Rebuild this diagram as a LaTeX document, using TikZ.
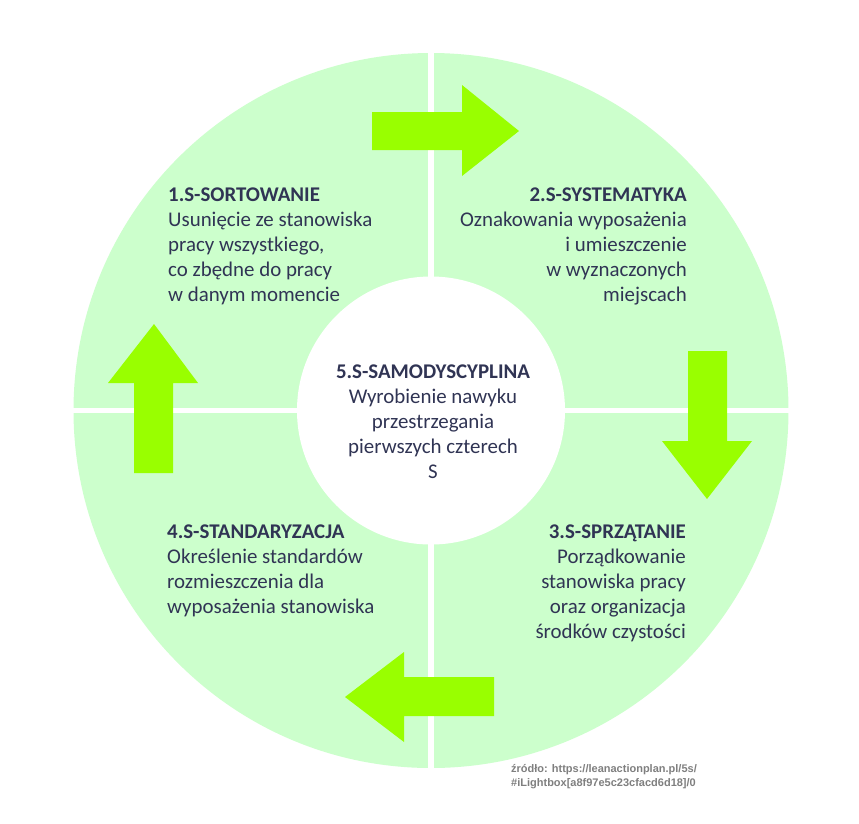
\documentclass[tikz,border=0pt]{standalone}
\usepackage{fontspec}
\setmainfont{Carlito}
\newfontfamily\srcfont{Liberation Sans}
\definecolor{ringgreen}{RGB}{204,255,204}
\definecolor{arrowgreen}{RGB}{153,255,0}
\definecolor{navy}{RGB}{48,52,84}
\definecolor{srcgray}{RGB}{127,127,127}
\tikzset{
  blocktext/.style={inner sep=0pt, text=navy, font=\fontsize{20.9}{25}\selectfont},
  blockarrow/.style={fill=arrowgreen, draw=none},
  gapline/.style={draw=white, line width=5.5pt}
}
\begin{document}
\begin{tikzpicture}[x=1pt,y=-1pt]
\useasboundingbox (0,0) rectangle (859,823);
\fill[white] (0,0) rectangle (859,823);
% ring
\fill[ringgreen] (431,410.5) circle (357.5);
\draw[gapline] (431,45) -- (431,776);
\draw[gapline] (65,410.5) -- (797,410.5);
\fill[white] (431,410.5) circle (134);
% block arrows
\fill[blockarrow] (372,112) -- (462,112) -- (462,85) -- (519,131) -- (462,176) -- (462,150) -- (372,150) -- cycle;
\fill[blockarrow] (688,351) -- (727,351) -- (727,441) -- (752,441) -- (707,499) -- (662,441) -- (688,441) -- cycle;
\fill[blockarrow] (494,677) -- (494,716) -- (404,716) -- (404,742) -- (345,697) -- (404,652) -- (404,677) -- cycle;
\fill[blockarrow] (134,473) -- (134,383) -- (108,383) -- (154,324) -- (198,383) -- (173,383) -- (173,473) -- cycle;
% texts
\node[blocktext, anchor=north west, align=left] (s1) at (168,188)
  {\textbf{1.S-SORTOWANIE}\\Usunięcie ze stanowiska\\pracy wszystkiego,\\co zbędne do pracy\\w danym momencie};
\node[blocktext, anchor=north east, align=right] (s2) at (687,188)
  {\textbf{2.S-SYSTEMATYKA}\\Oznakowania wyposażenia\\i umieszczenie\\w wyznaczonych\\miejscach};
\node[blocktext, anchor=north, align=center] (s5) at (433,365)
  {\textbf{5.S-SAMODYSCYPLINA}\\Wyrobienie nawyku\\przestrzegania\\pierwszych czterech\\S};
\node[blocktext, anchor=north east, align=right] (s3) at (686,525)
  {\textbf{3.S-SPRZĄTANIE}\\Porządkowanie\\stanowiska pracy\\oraz organizacja\\środków czystości};
\node[blocktext, anchor=north west, align=left] (s4) at (167,525)
  {\textbf{4.S-STANDARYZACJA}\\Określenie standardów\\rozmieszczenia dla\\wyposażenia stanowiska};
\node[inner sep=0pt, anchor=north west, align=left, text=srcgray, font=\srcfont\bfseries\fontsize{11}{14.5}\selectfont] (src) at (511,764)
  {źródło: https://leanactionplan.pl/5s/\\\#iLightbox[a8f97e5c23cfacd6d18]/0};
\end{tikzpicture}
\end{document}
